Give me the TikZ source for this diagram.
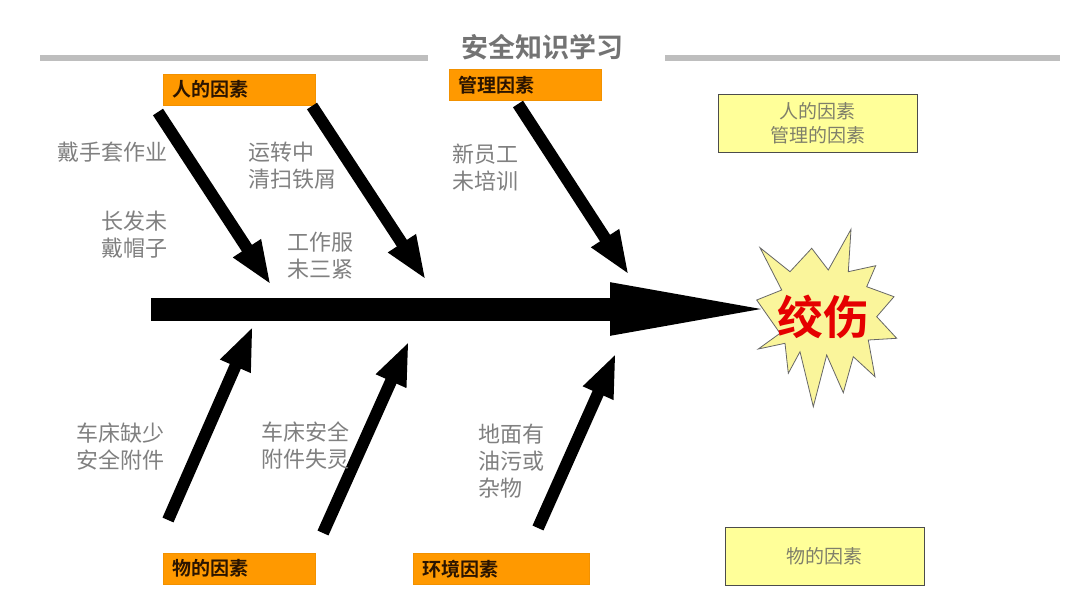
\documentclass[tikz,border=0pt]{standalone}
\usepackage{fontspec}
\setmainfont{Noto Sans CJK SC}[BoldFont={Noto Sans CJK SC Bold}]
\usetikzlibrary{arrows.meta}
\definecolor{orangebox}{HTML}{FF9900}
\definecolor{yelbox}{HTML}{FFFF99}
\definecolor{labgray}{HTML}{808080}
\definecolor{yeltext}{HTML}{7F7F6A}
\definecolor{cattext}{HTML}{2A1400}
\definecolor{hdrgray}{HTML}{BEBEBE}
\definecolor{starfill}{HTML}{FAF59B}
\definecolor{injred}{HTML}{E50000}
\tikzset{
  titletext/.style={font=\bfseries\fontsize{27}{27}\selectfont, text=black!55, inner sep=0pt},
  hdrline/.style={draw=hdrgray, line width=6pt},
  catbox/.style={fill=orangebox, draw=orangebox!95!black, line width=0.5pt, anchor=north west,
    minimum height=31pt, text width=134pt, inner xsep=9pt, inner ysep=0pt, align=left,
    font=\bfseries\fontsize{19}{19}\selectfont, text=cattext},
  notebox/.style={fill=yelbox, draw=black!70, line width=0.9pt, anchor=north west,
    minimum width=199pt, minimum height=58pt, align=center,
    font=\fontsize{19}{24}\selectfont, text=yeltext},
  cause/.style={anchor=north west, inner sep=0pt, align=left,
    font=\fontsize{22}{27}\selectfont, text=labgray},
  bone/.style={draw=black, line width=12pt, -{Triangle[length=44pt,width=30pt]}},
  spine/.style={draw=black, line width=23pt, -{Triangle[length=172pt,width=46pt]}},
  burst/.style={fill=starfill, draw=black!60, line width=0.8pt, line join=miter},
  injury/.style={font=\bfseries\fontsize{46}{46}\selectfont, text=injred, inner sep=0pt}
}
\begin{document}
\begin{tikzpicture}[x=1pt,y=-1pt]
\useasboundingbox[fill=white] (0,0) rectangle (1080,608);

% header
\node[titletext] (title) at (542,47) {安全知识学习};
\draw[hdrline] (40,58) -- (428,58);
\draw[hdrline] (665,58) -- (1060,58);

% category boxes
\node[catbox] (ren) at (163,74) {人的因素};
\node[catbox] (guanli) at (449,69) {管理因素};
\node[catbox] (wu) at (163,553) {物的因素};
\node[catbox, text width=158pt] (huanjing) at (413,553) {环境因素};

% note boxes
\node[notebox] (note1) at (718,94) {人的因素\\管理的因素};
\node[notebox] (note2) at (725,527) {物的因素};

% burst
\draw[burst] (760,247.7) -- (790,271.7) -- (811.7,248.3) -- (828.3,270) -- (851,229.3)
  -- (848.3,271.7) -- (875.7,265.7) -- (866.7,286.7) -- (894,296.7) -- (876.7,316.7)
  -- (896.7,338.3) -- (868.3,340) -- (875,376.7) -- (853.3,356.7) -- (843.3,392.7)
  -- (826.7,355) -- (813.3,406.7) -- (800,351.7) -- (788.3,373.3) -- (785,343.3)
  -- (758.3,349) -- (780,333.3) -- (756.7,300) -- (781.7,290) -- cycle;

% spine
\coordinate (spstart) at (151,309);
\coordinate (sptip) at (782,309);
\draw[spine] (spstart) -- (sptip);
\node[injury] (inj) at (823,317) {绞伤};

% bones
\coordinate (b1s) at (158,112); \coordinate (b1e) at (271,285);
\coordinate (b2s) at (312,106); \coordinate (b2e) at (426,280);
\coordinate (b3s) at (518,104); \coordinate (b3e) at (629,275);
\coordinate (b4s) at (168,520); \coordinate (b4e) at (253,326);
\coordinate (b5s) at (323,533); \coordinate (b5e) at (409,341);
\coordinate (b6s) at (538,528); \coordinate (b6e) at (616,353);
\draw[bone] (b1s) -- (b1e);
\draw[bone] (b2s) -- (b2e);
\draw[bone] (b3s) -- (b3e);
\draw[bone] (b4s) -- (b4e);
\draw[bone] (b5s) -- (b5e);
\draw[bone] (b6s) -- (b6e);

% causes
\node[cause] (c1) at (57,142) {戴手套作业};
\node[cause] (c2) at (101,211) {长发未\\戴帽子};
\node[cause] (c3) at (248,142) {运转中\\清扫铁屑};
\node[cause] (c4) at (287,232) {工作服\\未三紧};
\node[cause] (c5) at (452,144) {新员工\\未培训};
\node[cause] (c6) at (76,423) {车床缺少\\安全附件};
\node[cause] (c7) at (261,422) {车床安全\\附件失灵};
\node[cause] (c8) at (478,424) {地面有\\油污或\\杂物};
\end{tikzpicture}
\end{document}
